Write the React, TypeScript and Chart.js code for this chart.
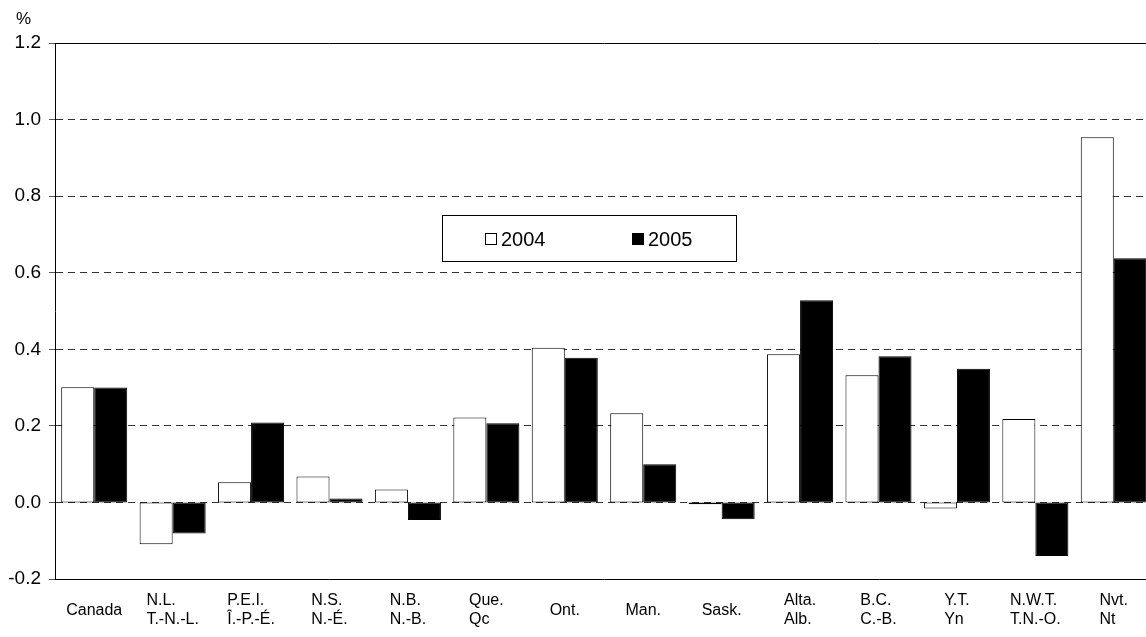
import { useEffect, useRef } from 'react';
import { Chart, registerables } from 'chart.js';

Chart.register(...registerables);

// ---- data ----
const categories: string[][] = [
  ['Canada'],
  ['N.L.', 'T.-N.-L.'],
  ['P.E.I.', 'Î.-P.-É.'],
  ['N.S.', 'N.-É.'],
  ['N.B.', 'N.-B.'],
  ['Que.', 'Qc'],
  ['Ont.'],
  ['Man.'],
  ['Sask.'],
  ['Alta.', 'Alb.'],
  ['B.C.', 'C.-B.'],
  ['Y.T.', 'Yn'],
  ['N.W.T.', 'T.N.-O.'],
  ['Nvt.', 'Nt'],
];
const seriesLabels = ['2004', '2005'];
const values2004 = [0.301, -0.109, 0.053, 0.068, 0.034, 0.222, 0.404, 0.233, -0.005, 0.387, 0.332, -0.016, 0.218, 0.954];
const values2005 = [0.300, -0.081, 0.209, 0.010, -0.046, 0.207, 0.378, 0.100, -0.044, 0.528, 0.382, 0.349, -0.140, 0.638];
const yMin = -0.2;
const yMax = 1.2;
const yStep = 0.2;
const unitLabel = '%';

const FONT = '"Liberation Sans", Arial, Helvetica, sans-serif';

const overlayPlugin = {
  id: 'overlay',
  afterDraw(chart: any) {
    const ctx: CanvasRenderingContext2D = chart.ctx;
    const xScale = chart.scales.x;
    ctx.save();
    ctx.fillStyle = '#000';
    // unit label
    ctx.font = `17px ${FONT}`;
    ctx.textAlign = 'left';
    ctx.textBaseline = 'middle';
    ctx.fillText(unitLabel, 16, 19);

    // category labels: block centred on tick, lines left-aligned
    ctx.font = `16px ${FONT}`;
    const labels: string[][] = chart.data.labels;
    labels.forEach((lines, i) => {
      const cx = xScale.getPixelForTick(i);
      const w = Math.max(...lines.map((l) => ctx.measureText(l).width));
      const left = cx - w / 2;
      if (lines.length === 1) {
        ctx.fillText(lines[0], left, 611);
      } else {
        ctx.fillText(lines[0], left, 601);
        ctx.fillText(lines[1], left, 620);
      }
    });

    // legend box
    const bx = 442.5, by = 215.5, bw = 294, bh = 46;
    ctx.fillStyle = '#fff';
    ctx.fillRect(bx, by, bw, bh);
    ctx.strokeStyle = '#000';
    ctx.lineWidth = 1;
    ctx.strokeRect(bx, by, bw, bh);
    const itemX = [485, 632];
    const midY = 239;
    ctx.font = `20px ${FONT}`;
    chart.data.datasets.forEach((ds: any, i: number) => {
      const sx = itemX[i];
      ctx.fillStyle = ds.backgroundColor;
      ctx.fillRect(sx + 0.5, midY - 6 + 0.5, 11, 11);
      ctx.strokeStyle = '#000';
      ctx.strokeRect(sx + 0.5, midY - 6 + 0.5, 11, 11);
      ctx.fillStyle = '#000';
      ctx.textAlign = 'left';
      ctx.textBaseline = 'middle';
      ctx.fillText(ds.label, sx + 16, midY + 1);
    });
    ctx.restore();
  },
};

export default function App() {
  const ref = useRef<HTMLCanvasElement | null>(null);

  useEffect(() => {
    if (!ref.current) return;
    Chart.defaults.font.family = FONT;
    const isEdge = (v: number) => Math.abs(v - yMin) < 1e-6 || Math.abs(v - yMax) < 1e-6;
    const chart = new Chart(ref.current, {
      type: 'bar',
      data: {
        labels: categories as any,
        datasets: [
          {
            label: seriesLabels[0],
            data: values2004,
            backgroundColor: '#ffffff',
            borderColor: '#000000',
            borderWidth: 1,
            borderSkipped: false,
          },
          {
            label: seriesLabels[1],
            data: values2005,
            backgroundColor: '#000000',
            borderColor: '#000000',
            borderWidth: 1,
            borderSkipped: false,
          },
        ],
      },
      options: {
        responsive: false,
        animation: false,
        devicePixelRatio: 1,
        layout: { padding: { top: 43, left: 0, right: 0, bottom: 0 } },
        plugins: {
          legend: { display: false },
          tooltip: { enabled: false },
          title: { display: false },
        },
        datasets: {
          bar: { categoryPercentage: 0.842, barPercentage: 1.0 },
        },
        scales: {
          x: {
            type: 'category',
            position: 'bottom',
            grid: { display: false, drawTicks: false },
            border: { display: true, color: '#000', width: 1 },
            ticks: { display: false },
            afterFit: (s: any) => { s.height = 58; },
          },
          xTop: {
            type: 'category',
            axis: 'x',
            position: 'top',
            labels: categories.map((c) => c.join(' ')),
            grid: { display: false, drawTicks: false },
            border: { display: true, color: '#000', width: 1 },
            ticks: { display: false },
            afterFit: (s: any) => { s.height = 0; },
          },
          y: {
            type: 'linear',
            min: yMin,
            max: yMax,
            ticks: {
              stepSize: yStep,
              color: '#000',
              padding: 8,
              font: { size: 19, family: FONT },
              callback: (v: any) => {
                const n = Number(v);
                return (Math.abs(n) < 1e-9 ? 0 : n).toFixed(1);
              },
            },
            grid: {
              color: (c: any) => (isEdge(c.tick?.value ?? 0) ? 'rgba(0,0,0,0)' : '#333'),
              lineWidth: 1,
              tickLength: 6,
              tickColor: '#555',
              tickBorderDash: [],
            },
            border: { display: true, color: '#000', width: 1, dash: [7, 5] },
            afterFit: (s: any) => { s.width = 55; },
          },
        },
      },
      plugins: [overlayPlugin],
    } as any);
    return () => chart.destroy();
  }, []);

  return (
    <div
      style={{
        position: 'absolute',
        left: 0,
        top: 0,
        width: 1146,
        height: 637,
        overflow: 'hidden',
        background: '#fff',
      }}
    >
      <canvas ref={ref} width={1153} height={637} style={{ display: 'block' }} />
    </div>
  );
}
